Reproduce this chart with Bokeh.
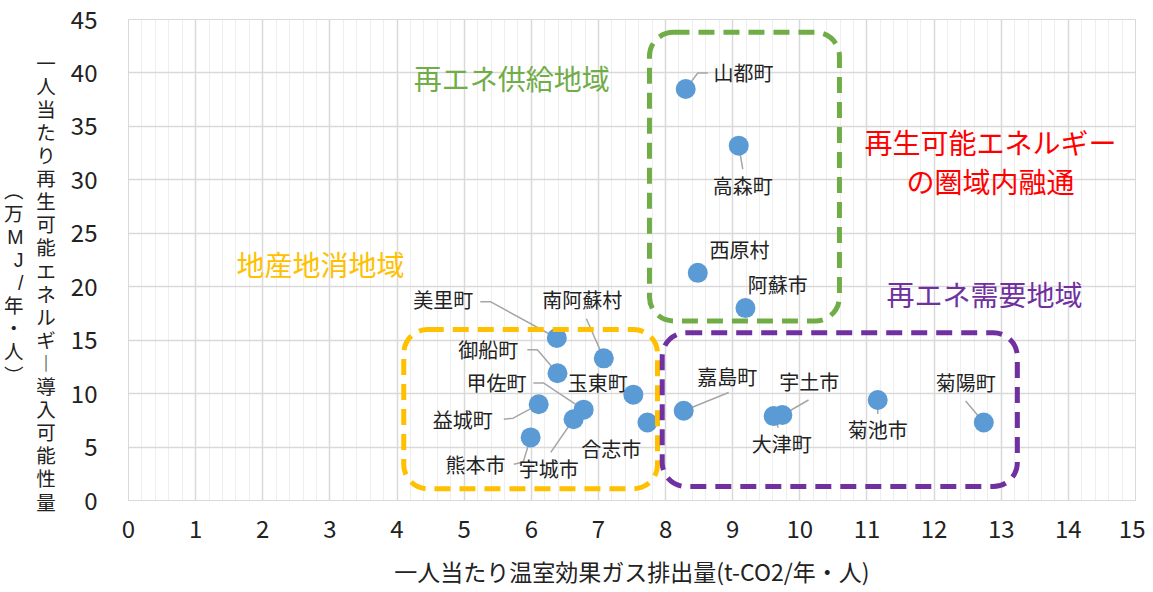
from bokeh.plotting import figure
from bokeh.models import (ColumnDataSource, BoxAnnotation, Label, SingleIntervalTicker, Range1d,
                          LinearAxis, FixedTicker)
from bokeh.core.properties import value
from bokeh.embed import file_html
from bokeh.resources import INLINE

FONT = "Noto Sans CJK JP"
VFONT = "Liberation Sans, Noto Sans CJK JP"  # tighter line metrics for vertical title

# ---- data ----
names = ["山都町", "高森町", "西原村", "阿蘇市", "美里町", "南阿蘇村", "御船町", "玉東町", "甲佐町",
         "宇城市", "益城町", "熊本市", "合志市", "嘉島町", "大津町", "宇土市", "菊池市", "菊陽町"]
ghg = [8.30, 9.09, 8.48, 9.19, 6.38, 7.08, 6.39, 7.52, 6.78,
       6.63, 6.11, 5.99, 7.73, 8.27, 9.61, 9.74, 11.16, 12.74]
renew = [38.5, 33.2, 21.3, 18.0, 15.2, 13.3, 11.9, 9.9, 8.5,
         7.6, 9.0, 5.9, 7.3, 8.4, 7.9, 8.0, 9.4, 7.3]

# label placement (annotation layout, data units)
label_x = [9.16, 9.15, 9.10, 9.67, 4.69, 6.76, 5.36, 6.99, 5.48,
           6.26, 4.98, 5.17, 7.19, 8.92, 9.73, 10.14, 11.16, 12.47]
label_y = [40.0, 29.5, 23.5, 20.2, 18.8, 18.8, 14.1, 11.0, 11.0,
           3.0, 7.6, 3.4, 4.9, 11.6, 5.3, 11.1, 6.6, 11.0]
leaders = {
    "山都町": [(8.63, 40.0), (8.48, 40.0)],
    "高森町": [(9.15, 31.0)],
    "美里町": [(5.24, 18.6), (5.39, 18.6)],
    "南阿蘇村": [(6.82, 17.0)],
    "御船町": [(5.94, 14.1), (6.09, 14.1)],
    "甲佐町": [(6.03, 11.0), (6.18, 11.0)],
    "益城町": [(5.59, 7.6), (5.73, 7.7)],
    "熊本市": [(5.74, 3.4), (5.88, 3.6)],
    "宇城市": [(6.29, 4.5)],
    "嘉島町": [(8.94, 10.1)],
    "宇土市": [(10.13, 9.4)],
    "大津町": [(9.68, 6.8)],
    "菊池市": [(11.16, 8.1)],
    "菊陽町": [(12.47, 9.3)],
}

regions = [  # (left, right, bottom, top, color)
    (7.76, 10.59, 16.8, 43.8, "#70AD47"),
    (4.10, 7.88, 1.1, 16.0, "#FFC000"),
    (7.95, 13.24, 1.3, 15.7, "#7030A0"),
]
region_texts = [  # (text, x, y, color)
    ("再エネ供給地域", 5.71, 39.55, "#70AD47"),
    ("再生可能エネルギー", 12.84, 33.5, "#FF0000"),
    ("の圏域内融通", 12.84, 29.9, "#FF0000"),
    ("地産地消地域", 2.86, 22.1, "#FFC000"),
    ("再エネ需要地域", 12.75, 19.3, "#7030A0"),
]

x_title = "一人当たり温室効果ガス排出量(t-CO2/年・人)"
y_title_1 = "一人当たり再生可能エネルギー導入可能性量"
y_title_2 = "(万MJ/年・人)"

# ---- figure ----
p = figure(width=1145, height=590, output_backend="svg", toolbar_location=None,
           x_range=Range1d(0, 15), y_range=Range1d(0, 45),
           min_border_left=128, min_border_right=10, min_border_top=19, min_border_bottom=84)
p.background_fill_color = "white"
p.border_fill_color = "white"
p.outline_line_color = "#D9D9D9"

p.xaxis.ticker = SingleIntervalTicker(interval=1, num_minor_ticks=5)
p.yaxis.ticker = SingleIntervalTicker(interval=5, num_minor_ticks=0)
p.xgrid.grid_line_color = "#D9D9D9"
p.ygrid.grid_line_color = "#D9D9D9"
p.xgrid.minor_grid_line_color = "#EEEEEE"
p.xgrid.grid_line_width = 1.5
p.ygrid.grid_line_width = 1.5
for ax in (p.xaxis, p.yaxis):
    ax.major_tick_line_color = None
    ax.minor_tick_line_color = None
    ax.major_label_text_font = FONT
    ax.major_label_text_font_size = "24px"
    ax.major_label_text_color = "#222222"
    ax.axis_label_text_font = FONT
    ax.axis_label_text_font_style = "normal"
    ax.axis_label_text_color = "#222222"
p.xaxis.axis_line_color = "#D9D9D9"
p.yaxis.axis_line_color = None
p.xaxis.major_label_standoff = 13
p.yaxis.major_label_standoff = 25

p.xaxis.axis_label = x_title
p.xaxis.axis_label_text_font_size = "23px"
p.xaxis.axis_label_standoff = 13

PAD = ["\u3000", "\u3000"]  # shifts the vertical column down like the reference
v1 = "\n".join(PAD + ["︱" if ch == "ー" else ch for ch in y_title_1])
p.yaxis.axis_label = v1
p.yaxis.axis_label_orientation = "horizontal"
p.yaxis.axis_label_text_font = VFONT
p.yaxis.axis_label_text_font_size = "19.5px"
p.yaxis.axis_label_text_line_height = 1.05
p.yaxis.axis_label_standoff = 12

v2 = "\n".join(PAD + [{"(": "︵", ")": "︶"}.get(ch, ch) for ch in y_title_2])
ax2 = LinearAxis(ticker=FixedTicker(ticks=[]), axis_label=v2, axis_line_color=None,
                 major_tick_line_color=None, minor_tick_line_color=None,
                 major_label_standoff=0, axis_label_standoff=10,
                 axis_label_orientation="horizontal", axis_label_text_font=VFONT,
                 axis_label_text_font_size="19.5px", axis_label_text_font_style="normal",
                 axis_label_text_color="#222222", axis_label_text_line_height=1.05)
p.add_layout(ax2, "left")

# regions
for l, r, b, t, c in regions:
    p.add_layout(BoxAnnotation(left=l, right=r, bottom=b, top=t, fill_alpha=0,
                               line_color=c, line_alpha=1.0, line_width=5, line_dash="16 9",
                               border_radius=24))

# leaders
xs, ys = [], []
for n, x, y in zip(names, ghg, renew):
    if n in leaders:
        pts = leaders[n]
        xs.append([q[0] for q in pts] + [x])
        ys.append([q[1] for q in pts] + [y])
p.multi_line(xs=xs, ys=ys, line_color="#A6A6A6", line_width=1.5)

src = ColumnDataSource(dict(x=ghg, y=renew, name=names, lx=label_x, ly=label_y))
p.scatter("x", "y", source=src, size=20, fill_color="#5B9BD5", line_color=None)
p.text("lx", "ly", text="name", source=src, text_font=value(FONT), text_font_size="20px",
       text_align="center", text_baseline="middle", text_color="#222222")

for t, x, y, c in region_texts:
    p.add_layout(Label(x=x, y=y, text=t, text_font=FONT, text_font_size="28px",
                       text_color=c, text_align="center", text_baseline="middle"))

open("out.html", "w").write(file_html(p, INLINE))
